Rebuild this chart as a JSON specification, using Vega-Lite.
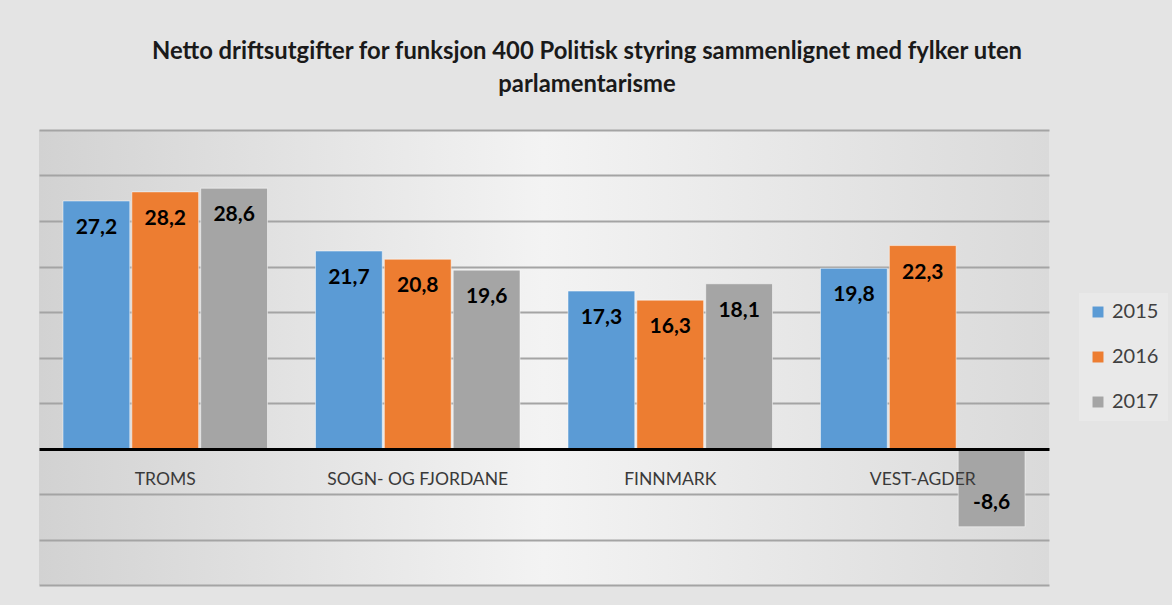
{
  "$schema": "https://vega.github.io/schema/vega-lite/v6.json",
  "width": 1010,
  "height": 455,
  "autosize": {"type": "none"},
  "padding": {"left": 39, "top": 130, "right": 123, "bottom": 20},
  "background": "#e4e4e4",
  "title": {
    "text": ["Netto driftsutgifter for funksjon 400 Politisk styring sammenlignet med fylker uten", "parlamentarisme"],
    "font": "Lato",
    "fontSize": 23.8,
    "fontWeight": "bold",
    "color": "#1a1a1a",
    "lineHeight": 33,
    "anchor": "middle",
    "dx": 43,
    "offset": 33
  },
  "config": {
    "locale": {"number": {"decimal": ",", "thousands": " ", "grouping": [3], "currency": ["", " kr"], "minus": "-"}},
    "view": {"stroke": null, "fill": {"gradient": "linear", "x1": 0, "y1": 0.5, "x2": 1, "y2": 0.5, "stops": [{"offset": 0, "color": "#d2d2d2"}, {"offset": 0.5, "color": "#f3f3f3"}, {"offset": 1, "color": "#dadada"}]}}
  },
  "data": {
    "values": [
      {"fylke": "TROMS", "year": "2015", "value": 27.2},
      {"fylke": "TROMS", "year": "2016", "value": 28.2},
      {"fylke": "TROMS", "year": "2017", "value": 28.6},
      {"fylke": "SOGN- OG FJORDANE", "year": "2015", "value": 21.7},
      {"fylke": "SOGN- OG FJORDANE", "year": "2016", "value": 20.8},
      {"fylke": "SOGN- OG FJORDANE", "year": "2017", "value": 19.6},
      {"fylke": "FINNMARK", "year": "2015", "value": 17.3},
      {"fylke": "FINNMARK", "year": "2016", "value": 16.3},
      {"fylke": "FINNMARK", "year": "2017", "value": 18.1},
      {"fylke": "VEST-AGDER", "year": "2015", "value": 19.8},
      {"fylke": "VEST-AGDER", "year": "2016", "value": 22.3},
      {"fylke": "VEST-AGDER", "year": "2017", "value": -8.6}
    ]
  },
  "encoding": {
    "x": {
      "field": "fylke", "type": "nominal", "sort": null,
      "scale": {"paddingInner": 0.19, "paddingOuter": 0.095},
      "axis": {
        "title": null, "offset": -136, "zindex": 1,
        "domainColor": "#000000", "domainWidth": 3,
        "ticks": false, "labelAngle": 0, "labelLimit": 400,
        "labelFont": "Lato", "labelFontSize": 17.5, "labelColor": "#3a3a3a",
        "labelPadding": 21
      }
    },
    "xOffset": {"field": "year", "type": "nominal", "scale": {"paddingInner": 0.03}},
    "y": {
      "field": "value", "type": "quantitative",
      "scale": {"domain": [-15, 35], "nice": false, "zero": false},
      "axis": {
        "title": null, "values": [-15, -10, -5, 5, 10, 15, 20, 25, 30, 35],
        "labels": false, "ticks": false, "domain": false,
        "gridColor": "#a4a4a4", "gridWidth": 2
      }
    }
  },
  "layer": [
    {
      "mark": {"type": "bar", "stroke": "#ffffff", "strokeOpacity": 0.5, "strokeWidth": 1},
      "encoding": {
        "color": {
          "field": "year", "type": "nominal",
          "scale": {"domain": ["2015", "2016", "2017"], "range": ["#5b9bd5", "#ed7d31", "#a5a5a5"]},
          "legend": {
            "title": null, "orient": "none", "legendX": 1040, "legendY": 163,
            "symbolType": "square", "symbolSize": 120, "symbolStrokeWidth": 0,
            "labelFont": "Lato", "labelFontSize": 20, "labelColor": "#404040",
            "rowPadding": 25, "padding": 9, "fillColor": "#e9e9e9"
          }
        }
      }
    },
    {
      "transform": [{"filter": "datum.value >= 0"}],
      "mark": {"type": "text", "baseline": "middle", "dy": 27, "font": "Lato", "fontSize": 21, "fontWeight": "bold", "color": "#000000"},
      "encoding": {"text": {"field": "value", "type": "quantitative", "format": ".1f"}}
    },
    {
      "transform": [{"filter": "datum.value < 0"}],
      "mark": {"type": "text", "baseline": "middle", "dy": -24, "font": "Lato", "fontSize": 21, "fontWeight": "bold", "color": "#000000"},
      "encoding": {"text": {"field": "value", "type": "quantitative", "format": ".1f"}}
    }
  ]
}
